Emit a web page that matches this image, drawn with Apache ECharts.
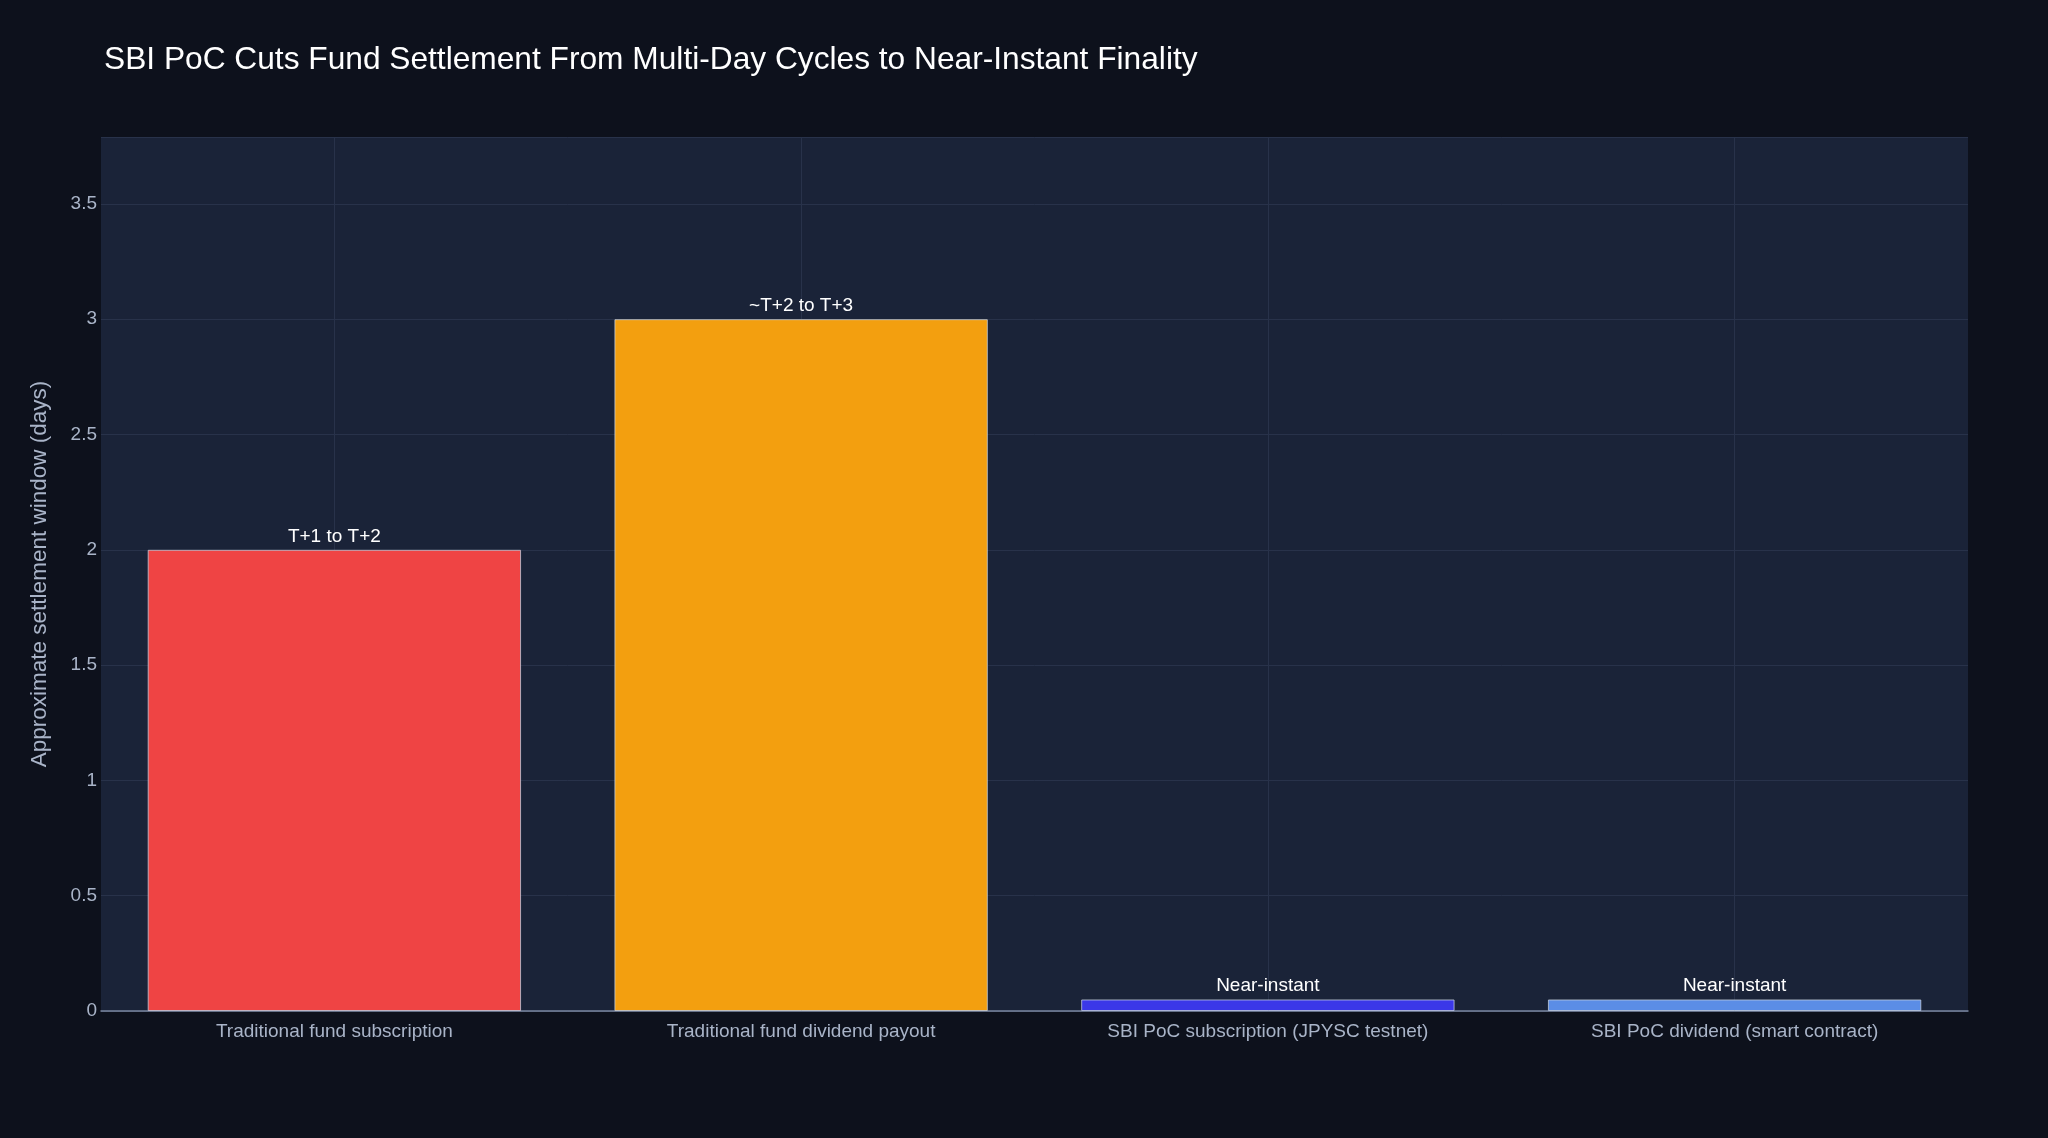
<!DOCTYPE html>
<html>
<head>
<meta charset="utf-8">
<script src="https://cdn.jsdelivr.net/npm/echarts@6/dist/echarts.min.js"></script>
<style>
html,body{margin:0;padding:0;background:#0d111c;}
#chart{width:2048px;height:1138px;}
</style>
</head>
<body>
<div id="chart"></div>
<script>
const categories = [
  "Traditional fund subscription",
  "Traditional fund dividend payout",
  "SBI PoC subscription (JPYSC testnet)",
  "SBI PoC dividend (smart contract)"
];
const values = [2, 3, 0.05, 0.05];
const barLabels = ["T+1 to T+2", "~T+2 to T+3", "Near-instant", "Near-instant"];
const barColors = ["#ef4444", "#f39f0f", "#3b38e8", "#5b8de6"];

const FONT = '"Liberation Sans", Arial, Helvetica, sans-serif';
const chart = echarts.init(document.getElementById('chart'), null, {renderer: 'canvas'});
chart.setOption({
  backgroundColor: '#0d111c',
  animation: false,
  textStyle: {fontFamily: FONT},
  title: {
    text: 'SBI PoC Cuts Fund Settlement From Multi-Day Cycles to Near-Instant Finality',
    left: 99, top: 39,
    textStyle: {color: '#ffffff', fontSize: 31.7, fontWeight: 'normal', fontFamily: FONT}
  },
  grid: {left: 101, right: 80, top: 137, bottom: 127, show: true,
         backgroundColor: '#1a2338', borderWidth: 0},
  xAxis: {
    type: 'category',
    data: categories,
    axisLine: {show: true, lineStyle: {color: '#7a869e', width: 1.5}},
    axisTick: {show: false},
    splitLine: {show: false},
    axisLabel: {color: '#a9b4c8', fontSize: 19, margin: 11, fontFamily: FONT}
  },
  yAxis: {
    type: 'value',
    min: 0, max: 3.79, interval: 0.5,
    name: 'Approximate settlement window (days)',
    nameLocation: 'middle',
    nameGap: 50,
    nameTextStyle: {color: '#a9b4c8', fontSize: 22.5, fontFamily: FONT},
    axisLine: {show: false},
    axisTick: {show: false},
    axisLabel: {color: '#a9b4c8', fontSize: 19, margin: 4, showMaxLabel: false, fontFamily: FONT,
                formatter: v => String(v)},
    splitLine: {show: true, lineStyle: {color: '#28324a', width: 1}}
  },
  series: [
    {
      type: 'line', data: [], z: 1, silent: true,
      markLine: {
        z: 1, silent: true, symbol: 'none', label: {show: false},
        lineStyle: {color: '#28324a', width: 1, type: 'solid'},
        data: categories.map(c => ({xAxis: c}))
      }
    },
    {
      type: 'bar', z: 3,
      barCategoryGap: '20%',
      data: values.map((v, i) => ({
        value: v,
        itemStyle: {color: barColors[i], borderColor: 'rgba(200,210,225,0.75)', borderWidth: 1}
      })),
      label: {
        show: true, position: 'top', distance: 4,
        color: '#ffffff', fontSize: 19, fontFamily: FONT,
        formatter: p => barLabels[p.dataIndex]
      }
    }
  ]
});
</script>
</body>
</html>
